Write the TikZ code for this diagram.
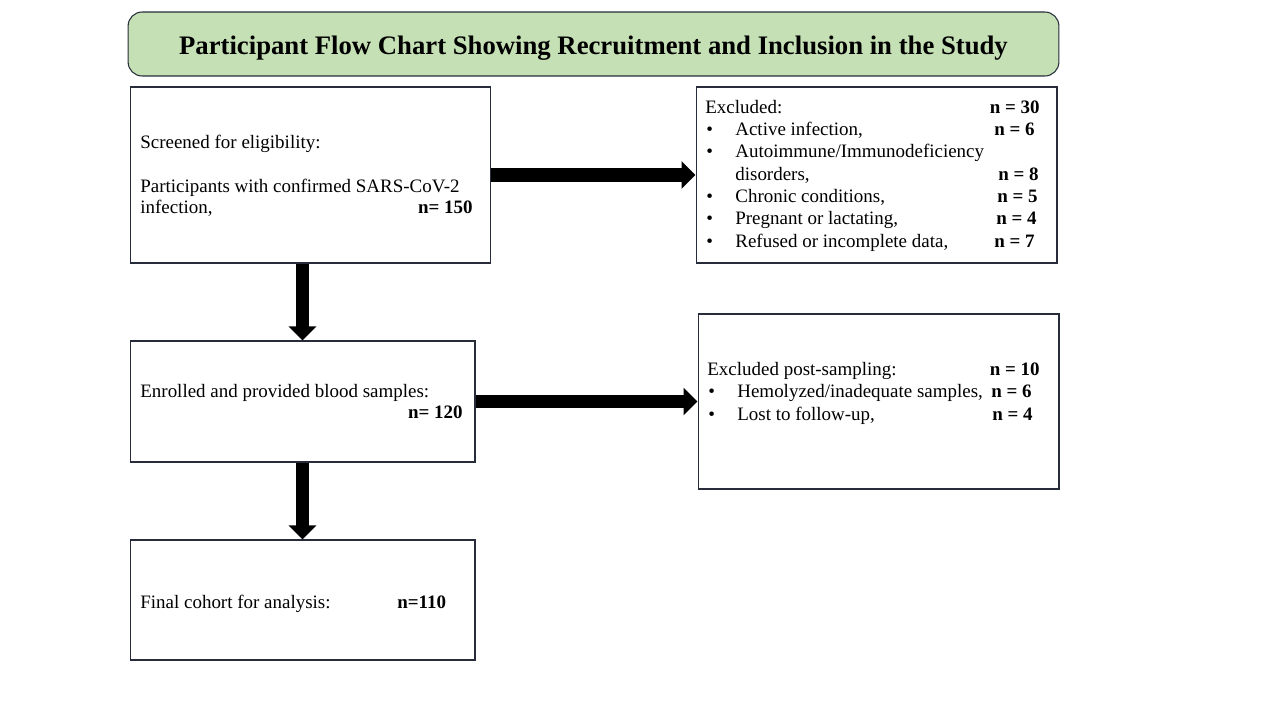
\documentclass[tikz,border=0pt]{standalone}
\usepackage{fontspec}
\setmainfont{Liberation Serif}
\usepackage{xcolor}
\usepackage{tikz}
\usetikzlibrary{arrows.meta, positioning, calc}
\definecolor{boxline}{RGB}{38, 44, 58}
\definecolor{titlefill}{RGB}{197, 224, 180}

\begin{document}
\begin{tikzpicture}[
    x=0.02cm, y=-0.02cm,
    box/.style={draw=boxline, line width=0.6pt, fill=white, inner sep=0pt},
    txt/.style={font=\fontsize{10.8}{13}\selectfont, inner sep=0pt},
    num/.style={font=\fontsize{10.8}{13}\selectfont\bfseries, inner sep=0pt, anchor=base east},
    blockarrow/.style={line width=0.27cm, -{Triangle[length=0.28cm, width=0.54cm]}}
]
    \useasboundingbox (0,0) rectangle (1280,720);

    % Title
    \node[box, fill=titlefill, rounded corners=8pt, minimum width=18.62cm, minimum height=1.28cm] (title) at (593.5,44) {};
    \node[font=\fontsize{15.2}{17}\selectfont\bfseries, inner sep=0pt, anchor=base] (titletxt) at (593.5,54)
          {Participant Flow Chart Showing Recruitment and Inclusion in the Study};

    % Boxes
    \node[box, minimum width=7.22cm, minimum height=3.52cm] (screen) at (310.5,175) {};
    \node[box, minimum width=7.22cm, minimum height=3.52cm] (excl1) at (876.5,175) {};
    \node[box, minimum width=6.9cm, minimum height=2.42cm] (enroll) at (302.5,401.5) {};
    \node[box, minimum width=7.22cm, minimum height=3.5cm] (excl2) at (878.5,401.5) {};
    \node[box, minimum width=6.9cm, minimum height=2.4cm] (final) at (302.5,600) {};

    % Screening text
    \node[txt, anchor=base west] (scrA) at (140,148) {Screened for eligibility:};
    \node[txt, anchor=base west] (scrB) at (140,192) {Participants with confirmed SARS-CoV-2};
    \node[txt, anchor=base west] (scrC) at (140,213) {infection,};
    \node[num] (scrN) at (473,213) {n= 150};

    % First exclusions
    \node[txt, anchor=base west] (exA) at (705,113) {Excluded:};
    \node[num] (exAn) at (1040,113) {n = 30};
    \foreach \y/\lbl [count=\i] in {135/{Active infection,}, 157/{Autoimmune/Immunodeficiency},
        202/{Chronic conditions,}, 224/{Pregnant or lactating,}, 247/{Refused or incomplete data,}} {
        \node[txt, anchor=base west] (exBul\i) at (706,\y) {\textbullet};
        \node[txt, anchor=base west] (exItem\i) at (735,\y) {\lbl};
    }
    \node[txt, anchor=base west] (exCont) at (735,180) {disorders,};
    \node[num] (exN1) at (1035,135) {n = 6};
    \node[num] (exN2) at (1039,180) {n = 8};
    \node[num] (exN3) at (1038,202) {n = 5};
    \node[num] (exN4) at (1037,224) {n = 4};
    \node[num] (exN5) at (1035,247) {n = 7};

    % Enrolment text
    \node[txt, anchor=base west] (enrA) at (140,397) {Enrolled and provided blood samples:};
    \node[num] (enrN) at (463,418) {n= 120};

    % Post-sampling exclusions
    \node[txt, anchor=base west] (psA) at (707,375) {Excluded post-sampling:};
    \node[num] (psAn) at (1040,375) {n = 10};
    \node[txt, anchor=base west] (psBul1) at (708,397) {\textbullet};
    \node[txt, anchor=base west] (psItem1) at (737,397) {Hemolyzed/inadequate samples,};
    \node[num] (psN1) at (1032,397) {n = 6};
    \node[txt, anchor=base west] (psBul2) at (708,420) {\textbullet};
    \node[txt, anchor=base west] (psItem2) at (737,420) {Lost to follow-up,};
    \node[num] (psN2) at (1033,420) {n = 4};

    % Final cohort text
    \node[txt, anchor=base west] (finA) at (140,608) {Final cohort for analysis:};
    \node[num, anchor=base west] (finN) at (397,608) {n=110};

    % Arrows
    \draw[blockarrow] (screen) -- (excl1);
    \draw[blockarrow] (enroll) -- (excl2);
    \draw[blockarrow] (screen.south -| enroll.north) -- (enroll.north);
    \draw[blockarrow] (enroll) -- (final);

\end{tikzpicture}
\end{document}
